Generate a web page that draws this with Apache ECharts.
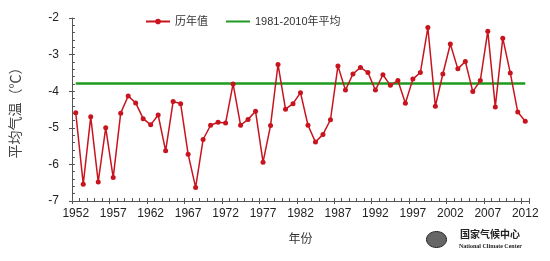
<!DOCTYPE html>
<html><head><meta charset="utf-8">
<script src="https://cdn.jsdelivr.net/npm/echarts@6/dist/echarts.min.js"></script>
<style>html,body{margin:0;padding:0;background:#fff}#c{width:550px;height:261px}</style>
</head><body><div id="c"></div>
<script>
const years = [];
for (let y = 1952; y <= 2012; y++) years.push(String(y));
const annualValues = [
  -4.59, -6.54, -4.70, -6.48, -5.00, -6.36, -4.60, -4.13, -4.32, -4.75,
  -4.92, -4.65, -5.63, -4.28, -4.34, -5.72, -6.63, -5.32, -4.93, -4.85,
  -4.87, -3.80, -4.93, -4.77, -4.55, -5.94, -4.94, -3.27, -4.49, -4.34,
  -4.04, -4.93, -5.39, -5.18, -4.78, -3.31, -3.97, -3.53, -3.35, -3.49,
  -3.97, -3.55, -3.84, -3.71, -4.33, -3.67, -3.49, -2.26, -4.41, -3.53,
  -2.71, -3.39, -3.19, -4.01, -3.71, -2.36, -4.43, -2.55, -3.50, -4.57,
  -4.82
];
const normalValue = -3.79;
const yTicks = [-7, -6, -5, -4, -3, -2];
const seriesNames = ['历年值', '1981-2010年平均'];

const normalSeries = years.map(() => normalValue);
const font = '"Liberation Sans", Arial, "Noto Sans CJK SC", sans-serif';
const cjk = '"Noto Sans CJK SC", sans-serif';
const axisColor = '#555';

const chart = echarts.init(document.getElementById('c'));
chart.setOption({
  animation: false,
  textStyle: { fontFamily: font },
  grid: { left: 71, right: 21, top: 18, bottom: 60 },
  legend: {
    top: 11, left: 140, itemGap: 17, itemWidth: 24, itemHeight: 7,
    textStyle: { fontSize: 11, color: '#333', fontFamily: font },
    data: [
      { name: seriesNames[0] },
      { name: seriesNames[1], itemStyle: { opacity: 0 } }
    ]
  },
  xAxis: [
    {
      type: 'category', data: years, boundaryGap: true,
      axisLine: { lineStyle: { color: axisColor, width: 1 } },
      axisTick: { show: true, inside: true, length: 3, interval: 0, alignWithLabel: false, lineStyle: { color: axisColor } },
      axisLabel: { interval: 4, color: '#222', fontSize: 12, margin: 7, fontFamily: font },
      name: '年份', nameLocation: 'middle', nameGap: 31,
      nameTextStyle: { fontSize: 12, color: '#333', fontFamily: cjk }
    },
    {
      type: 'category', data: years, boundaryGap: true, position: 'bottom',
      axisLine: { show: false },
      axisTick: { show: true, inside: false, length: 3, interval: (i) => i % 5 === 0, lineStyle: { color: axisColor } },
      axisLabel: { show: false }
    }
  ],
  yAxis: [
    {
      type: 'value', min: yTicks[0], max: yTicks[yTicks.length - 1], interval: 1,
      axisLine: { show: true, lineStyle: { color: axisColor } },
      axisTick: { show: true, inside: true, length: 3, lineStyle: { color: axisColor } },
      minorTick: { show: true, splitNumber: 5, length: 3, lineStyle: { color: axisColor } },
      splitLine: { show: false },
      axisLabel: { color: '#222', fontSize: 12, margin: 13, fontFamily: font },
      name: '平均气温（℃）', nameLocation: 'middle', nameGap: 50, nameRotate: 90,
      nameTextStyle: { fontSize: 14, color: '#444', fontFamily: cjk }
    },
    {
      type: 'value', min: yTicks[0], max: yTicks[yTicks.length - 1], interval: 1, position: 'left',
      axisLine: { show: false },
      axisTick: { show: true, inside: false, length: 3, lineStyle: { color: axisColor } },
      splitLine: { show: false },
      axisLabel: { show: false }
    }
  ],
  series: [
    {
      name: seriesNames[1], type: 'line', data: normalSeries, symbol: 'none',
      lineStyle: { color: '#1e9a1e', width: 2.5 }, itemStyle: { color: '#1e9a1e' }, z: 2
    },
    {
      name: seriesNames[0], type: 'line', data: annualValues, symbol: 'circle', symbolSize: 5,
      showSymbol: true, showAllSymbol: true,
      lineStyle: { color: '#c8141e', width: 1.5 }, itemStyle: { color: '#c8141e' }, z: 3
    }
  ],
  graphic: [
    { type: 'ellipse', left: 426, top: 231, shape: { cx: 0, cy: 0, rx: 10, ry: 8 },
      style: { fill: '#666', stroke: '#222', lineWidth: 1 } },
    { type: 'text', left: 460, top: 229, style: { text: '国家气候中心', fontSize: 10, fontWeight: 'bold', fill: '#222', fontFamily: cjk } },
    { type: 'text', left: 459, top: 243, style: { text: 'National Climate Center', fontSize: 6, fontWeight: 'bold', fill: '#222', fontFamily: '"Liberation Serif", serif' } }
  ]
});
</script></body></html>
